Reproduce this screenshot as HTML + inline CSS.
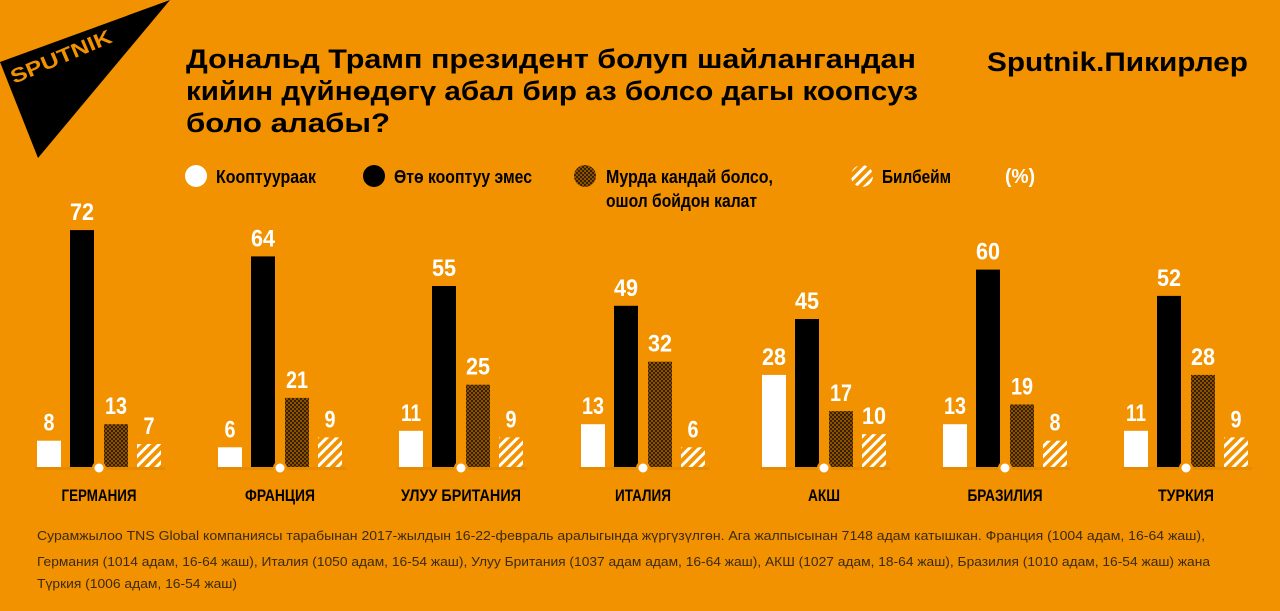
<!DOCTYPE html>
<html><head><meta charset="utf-8"><style>
html,body{margin:0;padding:0;background:#f29200;}
svg{display:block}
.t{font-family:"Liberation Sans",sans-serif;font-weight:bold;font-size:27px;fill:#000}
.n{font-family:"Liberation Sans",sans-serif;font-weight:bold}
.v{font-family:"Liberation Sans",sans-serif;font-weight:bold;font-size:24px;fill:#fff;text-anchor:middle}
.c{font-family:"Liberation Sans",sans-serif;font-weight:bold;font-size:17px;fill:#000;text-anchor:middle}
.f{font-family:"Liberation Sans",sans-serif;font-size:12.5px;fill:#3b2a10}
.w{fill:#fff}.b{fill:#000}.d{fill:url(#dots)}.h{fill:url(#hatch)}
.ax{fill:#e68a00}
</style></head><body>
<svg width="1280" height="611" viewBox="0 0 1280 611" xmlns="http://www.w3.org/2000/svg">
<defs>
<pattern id="dots" width="4" height="4" patternUnits="userSpaceOnUse">
<rect width="4" height="4" fill="#8a5200"/><rect width="2" height="2" fill="#3a2000"/><rect x="2" y="2" width="2" height="2" fill="#3a2000"/>
</pattern>
<pattern id="hatch" width="7" height="7" patternUnits="userSpaceOnUse" patternTransform="rotate(45)">
<rect width="7" height="7" fill="#f29200"/><rect width="3" height="7" fill="#fff"/>
</pattern>
</defs>
<rect width="1280" height="611" fill="#f29200"/>
<polygon points="0,62 170,0 38,158" fill="#000"/>
<text x="14" y="84" transform="rotate(-23 14 84)" class="n" font-size="20" fill="#f29200" textLength="108" lengthAdjust="spacingAndGlyphs">SPUTNIK</text>
<text x="186" y="68" class="t" textLength="730" lengthAdjust="spacingAndGlyphs">Дональд Трамп президент болуп шайлангандан</text>
<text x="186" y="100" class="t" textLength="732" lengthAdjust="spacingAndGlyphs">кийин дүйнөдөгү абал бир аз болсо дагы коопсуз</text>
<text x="186" y="132" class="t" textLength="204" lengthAdjust="spacingAndGlyphs">боло алабы?</text>
<text x="987" y="71" class="t" textLength="261" lengthAdjust="spacingAndGlyphs">Sputnik.Пикирлер</text>
<!-- legend -->
<circle cx="196" cy="176" r="11" fill="#fff"/>
<text x="216" y="183" class="n" font-size="18" textLength="100" lengthAdjust="spacingAndGlyphs">Кооптуураак</text>
<circle cx="374" cy="176" r="11" fill="#000"/>
<text x="394" y="183" class="n" font-size="18" textLength="138" lengthAdjust="spacingAndGlyphs">Өтө кооптуу эмес</text>
<circle cx="585" cy="176" r="11" fill="url(#dots)"/>
<text x="606" y="183" class="n" font-size="18" textLength="167" lengthAdjust="spacingAndGlyphs">Мурда кандай болсо,</text>
<text x="606" y="207" class="n" font-size="18" textLength="151" lengthAdjust="spacingAndGlyphs">ошол бойдон калат</text>
<circle cx="862" cy="176" r="11" fill="url(#hatch)"/>
<text x="882" y="183" class="n" font-size="18" textLength="69" lengthAdjust="spacingAndGlyphs">Билбейм</text>
<text x="1005" y="183" class="n" font-size="20" fill="#fff" textLength="30" lengthAdjust="spacingAndGlyphs">(%)</text>

<g transform="translate(37,0)">
<rect x="-2" y="467" width="130" height="3" class="ax"/>
<rect x="0" y="440.7" width="24" height="26.3" class="w"/><text x="12" y="430.7" class="v" textLength="11" lengthAdjust="spacingAndGlyphs">8</text>
<rect x="33" y="230.1" width="24" height="236.9" class="b"/><text x="45" y="220.1" class="v" textLength="24" lengthAdjust="spacingAndGlyphs">72</text>
<rect x="67" y="424.2" width="24" height="42.8" class="d"/><text x="79" y="414.2" class="v" textLength="22" lengthAdjust="spacingAndGlyphs">13</text>
<rect x="100" y="444" width="24" height="23" class="h"/><text x="112" y="434" class="v" textLength="11" lengthAdjust="spacingAndGlyphs">7</text>
<circle cx="62" cy="468" r="7" fill="#f29200"/><circle cx="62" cy="468" r="4.5" fill="#fff"/>
<text x="62" y="501" class="c" textLength="75" lengthAdjust="spacingAndGlyphs">ГЕРМАНИЯ</text>
</g>
<g transform="translate(218,0)">
<rect x="-2" y="467" width="130" height="3" class="ax"/>
<rect x="0" y="447.3" width="24" height="19.7" class="w"/><text x="12" y="437.3" class="v" textLength="11" lengthAdjust="spacingAndGlyphs">6</text>
<rect x="33" y="256.4" width="24" height="210.6" class="b"/><text x="45" y="246.4" class="v" textLength="24" lengthAdjust="spacingAndGlyphs">64</text>
<rect x="67" y="397.9" width="24" height="69.1" class="d"/><text x="79" y="387.9" class="v" textLength="22" lengthAdjust="spacingAndGlyphs">21</text>
<rect x="100" y="437.4" width="24" height="29.6" class="h"/><text x="112" y="427.4" class="v" textLength="11" lengthAdjust="spacingAndGlyphs">9</text>
<circle cx="62" cy="468" r="7" fill="#f29200"/><circle cx="62" cy="468" r="4.5" fill="#fff"/>
<text x="62" y="501" class="c" textLength="70" lengthAdjust="spacingAndGlyphs">ФРАНЦИЯ</text>
</g>
<g transform="translate(399,0)">
<rect x="-2" y="467" width="130" height="3" class="ax"/>
<rect x="0" y="430.8" width="24" height="36.2" class="w"/><text x="12" y="420.8" class="v" textLength="20" lengthAdjust="spacingAndGlyphs">11</text>
<rect x="33" y="286" width="24" height="181" class="b"/><text x="45" y="276" class="v" textLength="24" lengthAdjust="spacingAndGlyphs">55</text>
<rect x="67" y="384.7" width="24" height="82.3" class="d"/><text x="79" y="374.7" class="v" textLength="24" lengthAdjust="spacingAndGlyphs">25</text>
<rect x="100" y="437.4" width="24" height="29.6" class="h"/><text x="112" y="427.4" class="v" textLength="11" lengthAdjust="spacingAndGlyphs">9</text>
<circle cx="62" cy="468" r="7" fill="#f29200"/><circle cx="62" cy="468" r="4.5" fill="#fff"/>
<text x="62" y="501" class="c" textLength="120" lengthAdjust="spacingAndGlyphs">УЛУУ БРИТАНИЯ</text>
</g>
<g transform="translate(581,0)">
<rect x="-2" y="467" width="130" height="3" class="ax"/>
<rect x="0" y="424.2" width="24" height="42.8" class="w"/><text x="12" y="414.2" class="v" textLength="22" lengthAdjust="spacingAndGlyphs">13</text>
<rect x="33" y="305.8" width="24" height="161.2" class="b"/><text x="45" y="295.8" class="v" textLength="24" lengthAdjust="spacingAndGlyphs">49</text>
<rect x="67" y="361.7" width="24" height="105.3" class="d"/><text x="79" y="351.7" class="v" textLength="24" lengthAdjust="spacingAndGlyphs">32</text>
<rect x="100" y="447.3" width="24" height="19.7" class="h"/><text x="112" y="437.3" class="v" textLength="11" lengthAdjust="spacingAndGlyphs">6</text>
<circle cx="62" cy="468" r="7" fill="#f29200"/><circle cx="62" cy="468" r="4.5" fill="#fff"/>
<text x="62" y="501" class="c" textLength="56" lengthAdjust="spacingAndGlyphs">ИТАЛИЯ</text>
</g>
<g transform="translate(762,0)">
<rect x="-2" y="467" width="130" height="3" class="ax"/>
<rect x="0" y="374.9" width="24" height="92.1" class="w"/><text x="12" y="364.9" class="v" textLength="24" lengthAdjust="spacingAndGlyphs">28</text>
<rect x="33" y="319" width="24" height="148" class="b"/><text x="45" y="309" class="v" textLength="24" lengthAdjust="spacingAndGlyphs">45</text>
<rect x="67" y="411.1" width="24" height="55.9" class="d"/><text x="79" y="401.1" class="v" textLength="22" lengthAdjust="spacingAndGlyphs">17</text>
<rect x="100" y="434.1" width="24" height="32.9" class="h"/><text x="112" y="424.1" class="v" textLength="24" lengthAdjust="spacingAndGlyphs">10</text>
<circle cx="62" cy="468" r="7" fill="#f29200"/><circle cx="62" cy="468" r="4.5" fill="#fff"/>
<text x="62" y="501" class="c" textLength="32" lengthAdjust="spacingAndGlyphs">АКШ</text>
</g>
<g transform="translate(943,0)">
<rect x="-2" y="467" width="130" height="3" class="ax"/>
<rect x="0" y="424.2" width="24" height="42.8" class="w"/><text x="12" y="414.2" class="v" textLength="22" lengthAdjust="spacingAndGlyphs">13</text>
<rect x="33" y="269.6" width="24" height="197.4" class="b"/><text x="45" y="259.6" class="v" textLength="24" lengthAdjust="spacingAndGlyphs">60</text>
<rect x="67" y="404.5" width="24" height="62.5" class="d"/><text x="79" y="394.5" class="v" textLength="22" lengthAdjust="spacingAndGlyphs">19</text>
<rect x="100" y="440.7" width="24" height="26.3" class="h"/><text x="112" y="430.7" class="v" textLength="11" lengthAdjust="spacingAndGlyphs">8</text>
<circle cx="62" cy="468" r="7" fill="#f29200"/><circle cx="62" cy="468" r="4.5" fill="#fff"/>
<text x="62" y="501" class="c" textLength="75" lengthAdjust="spacingAndGlyphs">БРАЗИЛИЯ</text>
</g>
<g transform="translate(1124,0)">
<rect x="-2" y="467" width="130" height="3" class="ax"/>
<rect x="0" y="430.8" width="24" height="36.2" class="w"/><text x="12" y="420.8" class="v" textLength="20" lengthAdjust="spacingAndGlyphs">11</text>
<rect x="33" y="295.9" width="24" height="171.1" class="b"/><text x="45" y="285.9" class="v" textLength="24" lengthAdjust="spacingAndGlyphs">52</text>
<rect x="67" y="374.9" width="24" height="92.1" class="d"/><text x="79" y="364.9" class="v" textLength="24" lengthAdjust="spacingAndGlyphs">28</text>
<rect x="100" y="437.4" width="24" height="29.6" class="h"/><text x="112" y="427.4" class="v" textLength="11" lengthAdjust="spacingAndGlyphs">9</text>
<circle cx="62" cy="468" r="7" fill="#f29200"/><circle cx="62" cy="468" r="4.5" fill="#fff"/>
<text x="62" y="501" class="c" textLength="56" lengthAdjust="spacingAndGlyphs">ТУРКИЯ</text>
</g>

<text x="37" y="540" class="f" textLength="1168" lengthAdjust="spacingAndGlyphs">Сурамжылоо TNS Global компаниясы тарабынан 2017-жылдын 16-22-февраль аралыгында жүргүзүлгөн. Ага жалпысынан 7148 адам катышкан. Франция (1004 адам, 16-64 жаш),</text>
<text x="37" y="566" class="f" textLength="1173" lengthAdjust="spacingAndGlyphs">Германия (1014 адам, 16-64 жаш), Италия (1050 адам, 16-54 жаш), Улуу Британия (1037 адам адам, 16-64 жаш), АКШ (1027 адам, 18-64 жаш), Бразилия (1010 адам, 16-54 жаш) жана</text>
<text x="37" y="588" class="f" textLength="200" lengthAdjust="spacingAndGlyphs">Түркия (1006 адам, 16-54 жаш)</text>
</svg>
</body></html>
